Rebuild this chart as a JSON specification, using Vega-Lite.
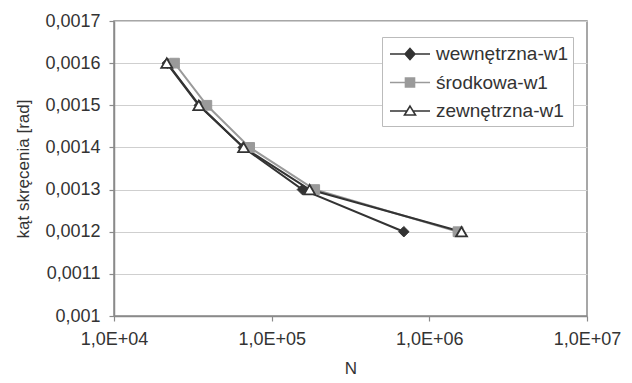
{
  "$schema": "https://vega.github.io/schema/vega-lite/v6.json",
  "autosize": "none",
  "padding": {"left": 114, "top": 21, "right": 45, "bottom": 67},
  "width": 473,
  "height": 295,
  "background": "white",
  "config": {
    "font": "Liberation Sans",
    "view": {"stroke": "#8a8a8a", "strokeWidth": 1.5},
    "axis": {
      "labelFont": "Liberation Sans",
      "titleFont": "Liberation Sans",
      "labelColor": "#333",
      "titleColor": "#333",
      "domainColor": "#8a8a8a",
      "tickColor": "#8a8a8a",
      "domainWidth": 1.5,
      "tickWidth": 1.2,
      "gridColor": "#cfcfcf",
      "gridWidth": 1.2
    }
  },
  "data": {
    "values": [
      {"series": "wewnętrzna-w1", "N": 21800, "kat": 0.0016},
      {"series": "wewnętrzna-w1", "N": 34800, "kat": 0.0015},
      {"series": "wewnętrzna-w1", "N": 66000, "kat": 0.0014},
      {"series": "wewnętrzna-w1", "N": 156700, "kat": 0.0013},
      {"series": "wewnętrzna-w1", "N": 689000, "kat": 0.0012},
      {"series": "środkowa-w1", "N": 24200, "kat": 0.0016},
      {"series": "środkowa-w1", "N": 38800, "kat": 0.0015},
      {"series": "środkowa-w1", "N": 72500, "kat": 0.0014},
      {"series": "środkowa-w1", "N": 187500, "kat": 0.0013},
      {"series": "środkowa-w1", "N": 1520000, "kat": 0.0012},
      {"series": "zewnętrzna-w1", "N": 21600, "kat": 0.0016},
      {"series": "zewnętrzna-w1", "N": 34500, "kat": 0.0015},
      {"series": "zewnętrzna-w1", "N": 66400, "kat": 0.0014},
      {"series": "zewnętrzna-w1", "N": 174000, "kat": 0.0013},
      {"series": "zewnętrzna-w1", "N": 1600000, "kat": 0.0012}
    ]
  },
  "encoding": {
    "x": {
      "field": "N",
      "type": "quantitative",
      "scale": {"type": "log", "domain": [10000, 10000000], "nice": false},
      "axis": {
        "title": "N",
        "values": [10000, 100000, 1000000, 10000000],
        "labelExpr": "'1,0E+0' + round(log(datum.value) / LN10)",
        "grid": false,
        "labelFontSize": 18,
        "titleFontSize": 17,
        "titleFontWeight": "normal",
        "tickSize": 5,
        "labelPadding": 9,
        "titlePadding": 12,
        "labelFlush": false
      }
    },
    "y": {
      "field": "kat",
      "type": "quantitative",
      "scale": {"domain": [0.001, 0.0017], "nice": false, "zero": false},
      "axis": {
        "title": "kąt skręcenia [rad]",
        "values": [0.001, 0.0011, 0.0012, 0.0013, 0.0014, 0.0015, 0.0016, 0.0017],
        "labelExpr": "replace(format(datum.value, '.4~f'), '.', ',')",
        "labelFontSize": 18,
        "titleFontSize": 17,
        "titleFontWeight": "normal",
        "tickSize": 5,
        "labelPadding": 9,
        "titlePadding": 12
      }
    }
  },
  "layer": [
    {
      "mark": {"type": "point", "opacity": 0},
      "encoding": {
        "shape": {
          "field": "series",
          "type": "nominal",
          "scale": {
            "domain": ["wewnętrzna-w1", "środkowa-w1", "zewnętrzna-w1"],
            "range": [
              "M-0.82,0H2.82M1,-0.5L1.45,0L1,0.5L0.55,0Z",
              "M-0.82,0H2.82M0.59,-0.41H1.41V0.41H0.59Z",
              "M-0.82,0H0.7M1.3,0H2.82M1,-0.45L1.5,0.36L0.5,0.36Z"
            ]
          },
          "legend": {
            "title": null,
            "orient": "none",
            "legendX": 268,
            "legendY": 16,
            "strokeColor": "#bbbbbb",
            "fillColor": "white",
            "padding": 5,
            "labelFont": "Liberation Sans",
            "labelFontSize": 19,
            "labelColor": "#333",
            "labelOffset": 25,
            "symbolSize": 484,
            "symbolStrokeWidth": 1.6,
            "symbolOpacity": 1,
            "rowPadding": 6.5
          }
        },
        "fill": {
          "field": "series",
          "type": "nominal",
          "scale": {"domain": ["wewnętrzna-w1", "środkowa-w1", "zewnętrzna-w1"], "range": ["#333333", "#9a9a9a", "#ffffff"]}
        },
        "stroke": {
          "field": "series",
          "type": "nominal",
          "scale": {"domain": ["wewnętrzna-w1", "środkowa-w1", "zewnętrzna-w1"], "range": ["#333333", "#9a9a9a", "#333333"]}
        }
      }
    },
    {
      "transform": [{"filter": "datum.series === 'wewnętrzna-w1'"}],
      "mark": {"type": "line", "strokeWidth": 2, "stroke": "#333333"},
      "encoding": {}
    },
    {
      "transform": [{"filter": "datum.series === 'środkowa-w1'"}],
      "mark": {"type": "line", "strokeWidth": 2, "stroke": "#9a9a9a"},
      "encoding": {}
    },
    {
      "transform": [{"filter": "datum.series === 'zewnętrzna-w1'"}],
      "mark": {"type": "line", "strokeWidth": 2, "stroke": "#333333"},
      "encoding": {}
    },
    {
      "transform": [{"filter": "datum.series === 'wewnętrzna-w1'"}],
      "mark": {"type": "point", "shape": "diamond", "filled": true, "fill": "#333333", "stroke": "#333333", "strokeWidth": 1, "size": 110, "opacity": 1}
    },
    {
      "transform": [{"filter": "datum.series === 'środkowa-w1'"}],
      "mark": {"type": "point", "shape": "square", "filled": true, "fill": "#9a9a9a", "stroke": "#9a9a9a", "strokeWidth": 1, "size": 95, "opacity": 1}
    },
    {
      "transform": [{"filter": "datum.series === 'zewnętrzna-w1'"}],
      "mark": {"type": "point", "shape": "triangle-up", "filled": true, "fill": "#ffffff", "stroke": "#333333", "strokeWidth": 1.8, "size": 120, "opacity": 1}
    }
  ]
}
